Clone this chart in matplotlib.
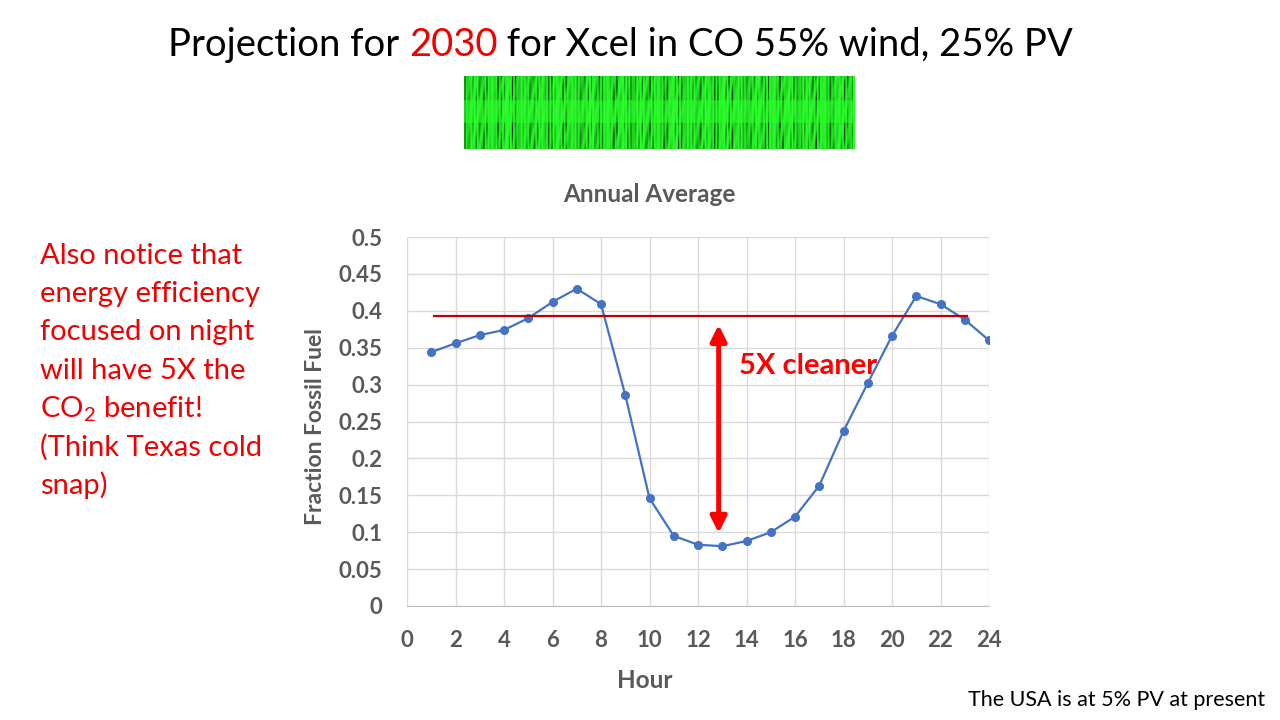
import numpy as np
import matplotlib
matplotlib.use('Agg')
import matplotlib.pyplot as plt

plt.rcParams['font.family'] = ['Lato', 'DejaVu Sans']
plt.rcParams['mathtext.default'] = 'regular'

# Data ####################################################
hours = list(range(1, 25))
fossil = [0.344, 0.356, 0.367, 0.374, 0.390, 0.412, 0.430, 0.409,
          0.286, 0.146, 0.095, 0.083, 0.081, 0.088, 0.100, 0.121,
          0.163, 0.237, 0.302, 0.366, 0.420, 0.409, 0.388, 0.360]
night_level = 0.393
night_span = (1.1, 23.1)
arrow_hour = 12.85
arrow_span = (0.381, 0.099)

xticks = list(range(0, 25, 2))
yticks = [0, 0.05, 0.1, 0.15, 0.2, 0.25, 0.3, 0.35, 0.4, 0.45, 0.5]
ytick_labels = ['0', '0.05', '0.1', '0.15', '0.2', '0.25', '0.3',
                '0.35', '0.4', '0.45', '0.5']
###########################################################

gray = '#595959'
red = '#F00000'

fig = plt.figure(figsize=(12.8, 7.2), dpi=100)
fig.patch.set_facecolor('white')

# Title with the red year #################################
title_parts = [('Projection for ', 'black'), ('2030', red),
               (' for Xcel in CO 55% wind, 25% PV', 'black')]
renderer = fig.canvas.get_renderer()
x = 168 / 1280
for txt, col in title_parts:
    t = fig.text(x, 1 - 45 / 720, txt, color=col, fontsize=27.5,
                 ha='left', va='center')
    bb = t.get_window_extent(renderer)
    x += bb.width / 1280

# green strip picture (decoration) ########################
ax_img = fig.add_axes([464 / 1280, 1 - 149 / 720, 391 / 1280, 73 / 720])
cols = np.arange(400)[None, :]
rows = np.arange(75)[:, None]
streak = (0.5 + 0.25 * np.sin(cols * 1.7) + 0.15 * np.sin(cols * 0.37 + 1.0)
          + 0.2 * np.sin(cols * 4.1 + 2.0))
streak = np.clip(streak, 0, 1)
vert = 0.55 + 0.45 * np.sin(rows * 0.15 + cols * 0.83) * np.sin(cols * 0.11)
band = np.where((rows > 24) & (rows < 48), 0.45, 1.0)
dark = np.clip((streak ** 2.5) * vert * band * 1.4, 0, 1)
img = np.zeros((75, 400, 3))
img[..., 0] = 0.17 * (1 - dark)
img[..., 1] = 1.0 * (1 - 0.88 * dark)
img[..., 2] = 0.17 * (1 - dark)
ax_img.imshow(img, aspect='auto', interpolation='bilinear')
ax_img.axis('off')

# Main chart ##############################################
ax = fig.add_axes([407 / 1280, 1 - 606 / 720, 582 / 1280, 369 / 720])
ax.plot(hours, fossil, color='#4472C4', lw=1.6, marker='o', ms=5.5)
ax.plot(night_span, [night_level, night_level], color='#C00000', lw=1.6)
ax.annotate('', xy=(arrow_hour, arrow_span[1]), xytext=(arrow_hour, arrow_span[0]),
            arrowprops=dict(arrowstyle='<|-|>', color='red', lw=3.5,
                            mutation_scale=24, shrinkA=0, shrinkB=0))
ax.text(13.7, 0.325, '5X cleaner', color='red', fontsize=21,
        fontweight='bold', ha='left', va='center')

ax.set_xlim(0, 24)
ax.set_ylim(0, 0.5)
ax.set_xticks(xticks)
ax.set_yticks(yticks)
ax.set_yticklabels(ytick_labels)
ax.grid(True, color='#D9D9D9', lw=1)
ax.set_axisbelow(True)
for s in ['top', 'right', 'left']:
    ax.spines[s].set_visible(False)
ax.spines['bottom'].set_color('#BFBFBF')
ax.tick_params(length=0, labelsize=16, labelcolor=gray)
ax.tick_params(axis='y', pad=18)
ax.tick_params(axis='x', pad=17)
for lab in ax.get_xticklabels() + ax.get_yticklabels():
    lab.set_fontweight('bold')
ax.set_ylabel('Fraction Fossil Fuel', fontsize=16.5, fontweight='bold',
              color=gray)
ax.yaxis.set_label_coords(-0.139, 0.485)

fig.text(649 / 1280, 1 - 195 / 720, 'Annual Average', fontsize=17.5,
         fontweight='bold', color=gray, ha='center', va='center')
fig.text(645 / 1280, 1 - 681 / 720, 'Hour', fontsize=17.5,
         fontweight='bold', color=gray, ha='center', va='center')

# Side notes ##############################################
note = ['Also notice that', 'energy efficiency', 'focused on night',
        'will have 5X the', 'CO$_2$ benefit!', '(Think Texas cold', 'snap)']
for i, line in enumerate(note):
    fig.text(40 / 1280, 1 - (256 + 38.2 * i) / 720, line, color=red,
             fontsize=21, ha='left', va='center')

fig.text(1265 / 1280, 1 - 700 / 720, 'The USA is at 5% PV at present',
         color='black', fontsize=15.5, ha='right', va='center')

fig.savefig('out.png', dpi=100)
